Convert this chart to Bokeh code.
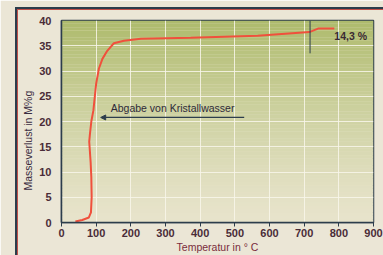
import numpy as np
from bokeh.plotting import figure
from bokeh.models import Range1d, Label, Arrow, NormalHead, FixedTicker, Title, InlineStyleSheet
from bokeh.embed import file_html
from bokeh.resources import INLINE

# data
temp = [40, 60, 79, 85, 87, 86, 84, 80, 82, 86, 92, 100, 108, 118, 132, 151, 180, 229, 373, 566, 715, 740, 787]
loss = [0.2, 0.5, 1.0, 2.0, 5.0, 9.0, 12.0, 16.0, 17.5, 20.0, 22.2, 27.5, 30.5, 32.4, 34.0, 35.5, 36.0, 36.4, 36.6, 37.0, 37.7, 38.4, 38.4]
x_ticks = [0, 100, 200, 300, 400, 500, 600, 700, 800, 900]
y_ticks = [0, 5, 10, 15, 20, 25, 30, 35, 40]
end_label = "14,3 %"
note = "Abgabe von Kristallwasser"
x_title = "Temperatur in ° C"
y_title = "Masseverlust in M%g"

BG = "#ebe6d6"
DARK = "#2c3d4c"
TXT = "#4a2c38"
RED = "#f0503c"

p = figure(width=383, height=255, output_backend="svg", toolbar_location=None,
           x_range=Range1d(0, 900), y_range=Range1d(0, 40),
           min_border_left=61, min_border_right=10, min_border_top=20, min_border_bottom=33)
p.background_fill_color = "#e6e2c8"
p.border_fill_color = BG
p.outline_line_color = DARK
p.outline_line_width = 1.5

# outer frame (left and top edges of the printed box)
p.stylesheets = [InlineStyleSheet(css=(
    ":host { position: relative; }"
    ":host::after { content: ''; position: absolute; left: 15px; top: 7px; right: -20px; bottom: -20px;"
    " border-left: 2px solid #2c3d4c; border-top: 2px solid #2c3d4c;"
    " box-shadow: inset 1px 1px 0 #c0504a; pointer-events: none; }"))]

# gradient background of the plot area
nb = 60
edges = np.linspace(0, 40, nb + 1)
top_c = np.array([0xae, 0xbb, 0x6c])
bot_c = np.array([0xe8, 0xe4, 0xcc])
cols = []
for i in range(nb):
    t = ((edges[i] + edges[i + 1]) / 2) / 40.0
    w = t ** 1.3
    c = bot_c * (1 - w) + top_c * w
    cols.append("#%02x%02x%02x" % tuple(int(v) for v in c))
p.quad(left=0, right=900, bottom=edges[:-1], top=edges[1:], fill_color=cols, line_color=None,
       level="image")

# grid
p.xgrid.ticker = FixedTicker(ticks=x_ticks)
p.ygrid.ticker = FixedTicker(ticks=y_ticks)
p.grid.grid_line_color = "#f8f6ea"
p.grid.grid_line_alpha = 0.85
p.grid.grid_line_width = 1
p.grid.level = "underlay"

# axes
p.xaxis.ticker = FixedTicker(ticks=x_ticks)
p.yaxis.ticker = FixedTicker(ticks=y_ticks)
for ax in (p.xaxis[0], p.yaxis[0]):
    ax.axis_line_color = DARK
    ax.axis_line_width = 1.5
    ax.major_label_text_color = TXT
    ax.major_label_text_font = "Liberation Sans"
    ax.major_label_text_font_size = "11px"
    ax.major_label_text_font_style = "bold"
    ax.minor_tick_line_color = None
p.xaxis.major_tick_line_color = DARK
p.xaxis.major_tick_out = 4
p.xaxis.major_tick_in = 0
p.xaxis.major_label_standoff = 2
p.yaxis.major_tick_line_color = None
p.yaxis.major_label_standoff = 4

p.xaxis.axis_label = x_title
p.xaxis.axis_label_text_font = "Liberation Sans"
p.xaxis.axis_label_text_font_size = "10.5px"
p.xaxis.axis_label_text_font_style = "normal"
p.xaxis.axis_label_text_color = "#7a2c3c"
p.xaxis.axis_label_standoff = 1

p.add_layout(Title(text=y_title, align="left", offset=32, text_font="Liberation Sans",
                   text_font_size="10.5px", text_font_style="normal", text_color="#3a2c40",
                   standoff=6), "left")

# curve
p.line(temp, loss, line_color=RED, line_width=2)

# marker line and end label
p.segment(x0=[717], y0=[33.5], x1=[717], y1=[40], line_color=DARK, line_width=1)
p.add_layout(Label(x=787, y=37, text=end_label, text_font="Liberation Sans", text_font_style="bold",
                   text_font_size="10.5px", text_color="#3a2a34", text_baseline="middle"))

# annotation
p.add_layout(Label(x=142, y=22.6, text=note, text_font="Liberation Sans",
                   text_font_size="10.5px", text_color="#2e2a3a", text_baseline="middle"))
p.add_layout(Arrow(end=NormalHead(size=5, fill_color=DARK, line_color=DARK),
                   x_start=527, y_start=20.8, x_end=113, y_end=20.8,
                   line_color=DARK, line_width=1.2))

open("out.html", "w").write(file_html(p, INLINE))
